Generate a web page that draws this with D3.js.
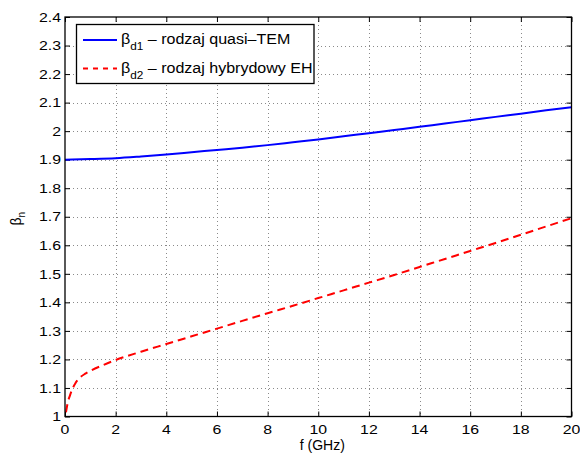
<!DOCTYPE html>
<html>
<head>
<meta charset="utf-8">
<script src="https://cdn.jsdelivr.net/npm/d3@7"></script>
<style>
  html, body { margin: 0; padding: 0; background: #fff; }
  svg { display: block; font-family: "Liberation Sans", Arial, Helvetica, sans-serif; }
</style>
</head>
<body>
<svg id="chart" width="580" height="455"></svg>
<script>
// Frequency (GHz) and normalised phase constant of the quasi-TEM mode
const fQuasiTEM = [0, 1, 2, 3, 4, 5, 6, 7, 8, 9, 10, 11, 12, 13, 14, 15, 16, 17, 18, 19, 20];
const betaQuasiTEM = [1.900, 1.902, 1.905, 1.911, 1.918, 1.926, 1.934, 1.942, 1.951, 1.961, 1.971,
                      1.982, 1.993, 2.004, 2.015, 2.027, 2.038, 2.050, 2.061, 2.073, 2.084];

// Frequency (GHz) and normalised phase constant of the hybrid EH mode
const fHybridEH = [0.04, 0.1, 0.2, 0.3, 0.4, 0.6, 0.8, 1, 1.5, 2, 3, 4, 5, 6, 7, 8, 9, 10,
                   11, 12, 13, 14, 15, 16, 17, 18, 19, 20];
const betaHybridEH = [1.015, 1.045, 1.075, 1.098, 1.115, 1.137, 1.150, 1.160, 1.180, 1.198, 1.227,
                      1.254, 1.281, 1.308, 1.335, 1.362, 1.388, 1.415, 1.442, 1.469, 1.496, 1.524,
                      1.552, 1.580, 1.608, 1.637, 1.666, 1.695];

const xTicks = [0, 2, 4, 6, 8, 10, 12, 14, 16, 18, 20];
const yTicks = [1, 1.1, 1.2, 1.3, 1.4, 1.5, 1.6, 1.7, 1.8, 1.9, 2, 2.1, 2.2, 2.3, 2.4];

const legendLabels = [
  { main: "β", sub: "d1", rest: " – rodzaj quasi–TEM" },
  { main: "β", sub: "d2", rest: " – rodzaj hybrydowy EH" }
];

const plot = { left: 65, right: 571.5, top: 17, bottom: 416.5 };

const svg = d3.select("#chart");

const x = d3.scaleLinear().domain([0, 20]).range([plot.left, plot.right]);
const y = d3.scaleLinear().domain([1, 2.4]).range([plot.bottom, plot.top]);

// Dotted grid
const grid = svg.append("g").attr("stroke", "#8a8a8a").attr("stroke-width", 1)
  .attr("stroke-dasharray", "1,3");
grid.selectAll("line.gx").data(xTicks.slice(1, -1)).join("line")
  .attr("x1", d => Math.round(x(d)) + 0.5).attr("x2", d => Math.round(x(d)) + 0.5)
  .attr("y1", plot.top).attr("y2", plot.bottom);
grid.selectAll("line.gy").data(yTicks.slice(1, -1)).join("line")
  .attr("y1", d => Math.round(y(d)) + 0.5).attr("y2", d => Math.round(y(d)) + 0.5)
  .attr("x1", plot.left).attr("x2", plot.right);

// Inward ticks on all four sides
const tickLen = 5;
const axisG = svg.append("g");
const bottomAxis = d3.axisBottom(x).tickValues(xTicks).tickSizeInner(-tickLen).tickSizeOuter(0).tickFormat("");
const topAxis = d3.axisTop(x).tickValues(xTicks).tickSizeInner(-tickLen).tickSizeOuter(0).tickFormat("");
const leftAxis = d3.axisLeft(y).tickValues(yTicks).tickSizeInner(-tickLen).tickSizeOuter(0).tickFormat("");
const rightAxis = d3.axisRight(y).tickValues(yTicks).tickSizeInner(-tickLen).tickSizeOuter(0).tickFormat("");
axisG.append("g").attr("transform", `translate(0,${plot.bottom})`).call(bottomAxis);
axisG.append("g").attr("transform", `translate(0,${plot.top})`).call(topAxis);
axisG.append("g").attr("transform", `translate(${plot.left},0)`).call(leftAxis);
axisG.append("g").attr("transform", `translate(${plot.right},0)`).call(rightAxis);
axisG.selectAll(".domain").remove();
axisG.selectAll(".tick line").attr("stroke", "#000").attr("stroke-width", 1);

// Tick labels (slightly wide face)
const lab = svg.append("g").attr("font-size", 13).attr("fill", "#000");
lab.selectAll("text.xl").data(xTicks).join("text")
  .attr("transform", d => `translate(${x(d)},433.5) scale(1.22,1)`)
  .attr("text-anchor", "middle")
  .text(d => d3.format("")(d));
lab.selectAll("text.yl").data(yTicks).join("text")
  .attr("transform", d => `translate(61,${y(d) + 4.7}) scale(1.22,1)`)
  .attr("text-anchor", "end")
  .text(d => String(+d.toFixed(1)));

// Lines
const line = d3.line().x(d => x(d[0])).y(d => y(d[1])).curve(d3.curveMonotoneX);
svg.append("clipPath").attr("id", "plotclip").append("rect")
  .attr("x", plot.left).attr("y", plot.top)
  .attr("width", plot.right - plot.left).attr("height", plot.bottom - plot.top);

svg.append("path")
  .datum(fQuasiTEM.map((f, i) => [f, betaQuasiTEM[i]]))
  .attr("d", line)
  .attr("fill", "none").attr("stroke", "#0000ff").attr("stroke-width", 2)
  .attr("clip-path", "url(#plotclip)");

svg.append("path")
  .datum(fHybridEH.map((f, i) => [f, betaHybridEH[i]]))
  .attr("d", line)
  .attr("fill", "none").attr("stroke", "#ff0000").attr("stroke-width", 2)
  .attr("stroke-dasharray", "8,5")
  .attr("clip-path", "url(#plotclip)");

// Axes box
svg.append("rect")
  .attr("x", plot.left).attr("y", plot.top)
  .attr("width", plot.right - plot.left).attr("height", plot.bottom - plot.top)
  .attr("fill", "none").attr("stroke", "#000").attr("stroke-width", 1.3);

// Axis titles
svg.append("text")
  .attr("x", (plot.left + plot.right) / 2 + 4).attr("y", 450)
  .attr("text-anchor", "middle").attr("font-size", 14)
  .text("f (GHz)");

const yTitle = svg.append("text")
  .attr("transform", `translate(21,${(plot.top + plot.bottom) / 2 + 2}) rotate(-90)`)
  .attr("text-anchor", "middle").attr("font-size", 14);
yTitle.append("tspan").text("β");
yTitle.append("tspan").attr("font-size", 10).attr("dy", 4).text("n");

// Legend
const legend = svg.append("g");
legend.append("rect")
  .attr("x", 76.5).attr("y", 24.5).attr("width", 237.5).attr("height", 59)
  .attr("fill", "#fff").attr("stroke", "#000").attr("stroke-width", 1.3);
const legendStyles = [
  { color: "#0000ff", dash: null },
  { color: "#ff0000", dash: "5,5" }
];
const rowY = [40, 68.5];
legendLabels.forEach((lbl, i) => {
  legend.append("line")
    .attr("x1", 83).attr("x2", 117).attr("y1", rowY[i]).attr("y2", rowY[i])
    .attr("stroke", legendStyles[i].color).attr("stroke-width", 2)
    .attr("stroke-dasharray", legendStyles[i].dash);
  const t = legend.append("text")
    .attr("transform", `translate(121,${rowY[i] + 4}) scale(1.07,1)`)
    .attr("font-size", 15);
  t.append("tspan").text(lbl.main);
  t.append("tspan").attr("font-size", 11).attr("dy", 6).text(lbl.sub);
  t.append("tspan").attr("dy", -6).text(lbl.rest);
});
</script>
</body>
</html>
